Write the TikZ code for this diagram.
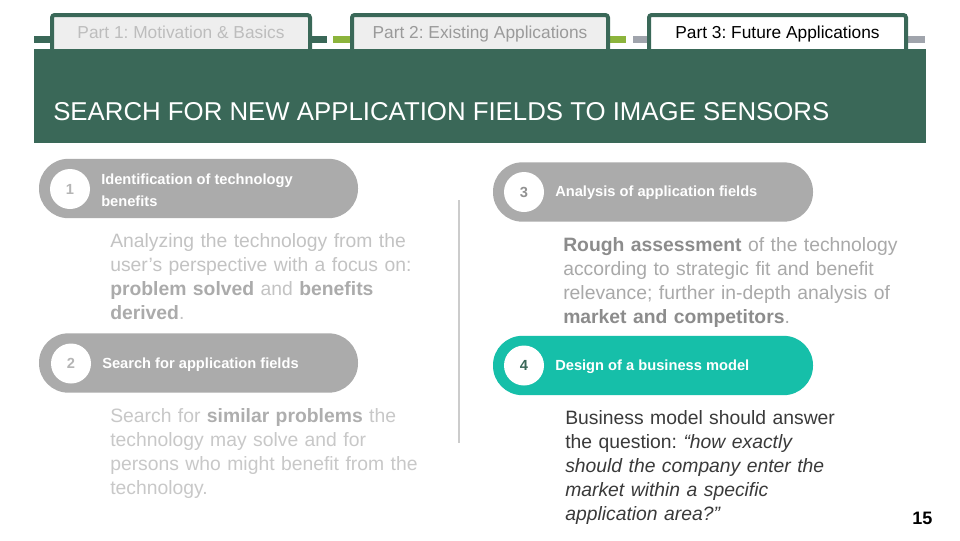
\documentclass[tikz,border=0pt]{standalone}
\usepackage{fontspec}
\setmainfont{Liberation Sans}
\frenchspacing
\definecolor{hdr}{HTML}{3A6858}
\definecolor{tabfill}{HTML}{EEEEEE}
\definecolor{tabtext}{HTML}{BDBDBD}
\definecolor{lgreen}{HTML}{8CB43C}
\definecolor{greybar}{HTML}{A0A4AC}
\definecolor{pillgrey}{HTML}{ABABAB}
\definecolor{teal}{HTML}{16BFA9}
\definecolor{numgrey}{HTML}{B5B5B5}
\definecolor{pAnorm}{HTML}{C3C3C3}
\definecolor{pAbold}{HTML}{ABABAB}
\definecolor{pCnorm}{HTML}{A9A9A9}
\definecolor{pCbold}{HTML}{8C8C8C}
\definecolor{pBnorm}{HTML}{C8C8C8}
\definecolor{pBbold}{HTML}{AEAEAE}
\definecolor{pDnorm}{HTML}{3A3A3A}
\definecolor{divider}{HTML}{CCCCCC}
\tikzset{
  tabbox/.style={draw=hdr, line width=3pt, rounded corners=2pt, minimum height=27.75pt,
    inner sep=0pt, text height=9.4pt, text depth=2.6pt, font=\fontsize{13pt}{15pt}\selectfont},
  pillbox/.style={rounded corners=22pt, minimum height=44.5pt, minimum width=240pt, inner sep=0pt},
  numcirc/.style={circle, fill=white, minimum size=30pt, inner sep=0pt,
    font=\fontsize{11pt}{13pt}\selectfont\bfseries},
  pilltext/.style={anchor=west, inner sep=0pt, text=white, align=left,
    font=\fontsize{11pt}{16.5pt}\selectfont\bfseries},
  para/.style={anchor=base west, inner sep=0pt, text width=260pt, align=left,
    font=\fontsize{14.5pt}{18pt}\selectfont},
  bar/.style={inner sep=0pt, minimum height=5.25pt}
}
\begin{document}
\begin{tikzpicture}[x=0.75pt,y=-0.75pt]
\useasboundingbox (0,0) rectangle (960,540);
\fill[white] (0,0) rectangle (960,540);
% header band
\node[fill=hdr, inner sep=0pt, minimum width=669pt, minimum height=70.5pt, anchor=north west] (header) at (34,49) {};
% small bars
\node[bar, fill=hdr, minimum width=12pt, anchor=west] (b0) at (34,39.5) {};
\node[bar, fill=hdr, minimum width=11.25pt, anchor=west] (b1) at (312,39.5) {};
\node[bar, fill=lgreen, minimum width=12.75pt, anchor=west] (b2) at (333,39.5) {};
\node[bar, fill=lgreen, minimum width=12pt, anchor=west] (b3) at (610,39.5) {};
\node[bar, fill=greybar, minimum width=11.25pt, anchor=west] (b4) at (633,39.5) {};
\node[bar, fill=greybar, minimum width=12.75pt, anchor=west] (b5) at (908,39.5) {};
% tabs
\node[tabbox, fill=tabfill, text=tabtext, minimum width=193.5pt] (tab1) at (181,33.5) {Part 1: Motivation \& Basics};
\node[tabbox, fill=tabfill, text=numgrey!85!black, minimum width=192pt] (tab2) at (480,33.5) {Part 2: Existing Applications};
\node[tabbox, fill=white, text=black, minimum width=192.75pt] (tab3) at (777.5,33.5) {Part 3: Future Applications};
\fill[hdr] (34,49) rectangle (926,52);
% title
\node[anchor=base west, inner sep=0pt, text=white, font=\fontsize{19.35pt}{23pt}\selectfont] (title) at (53,120.5)
  {SEARCH FOR NEW APPLICATION FIELDS TO IMAGE SENSORS};
% divider
\coordinate (dtop) at (459,200);
\coordinate (dbot) at (459,443);
\draw[divider, line width=0.9pt] (dtop) -- (dbot);
% pills
\node[pillbox, fill=pillgrey, minimum width=239.25pt] (pill1) at (198.5,188.5) {};
\node[pillbox, fill=pillgrey] (pill3) at (653,192) {};
\node[pillbox, fill=pillgrey, minimum width=239.25pt] (pill2) at (198.5,363) {};
\node[pillbox, fill=teal] (pill4) at (653,365.5) {};
% number circles
\node[numcirc, text=numgrey] (c1) at (70,189) {1};
\node[numcirc, text=numgrey!80!black] (c3) at (524,192) {3};
\node[numcirc, text=numgrey] (c2) at (71,363.5) {2};
\node[numcirc, text=hdr] (c4) at (524,365.5) {4};
% pill texts
\node[pilltext] (t1) at (101,190) {Identification of technology\\benefits};
\node[pilltext] (t3) at (555,193) {Analysis of application fields};
\node[pilltext] (t2) at (102,365) {Search for application fields};
\node[pilltext] (t4) at (555,367) {Design of a business model};
% paragraphs
\node[para, text=pAnorm] (p1) at (110,247)
  {Analyzing the technology from the\\
   user's perspective with a focus on:\\
   \textcolor{pAbold}{\bfseries problem solved} and \textcolor{pAbold}{\bfseries benefits}\\
   \textcolor{pAbold}{\bfseries derived}.};
\node[para, text=pCnorm, text width=270pt] (p3) at (563,251)
  {\textcolor{pCbold}{\bfseries Rough assessment} of the technology\\
   according to strategic fit and benefit\\
   relevance; further in-depth analysis of\\
   \textcolor{pCbold}{\bfseries market and competitors}.};
\node[para, text=pBnorm] (p2) at (110,422)
  {Search for \textcolor{pBbold}{\bfseries similar problems} the\\
   technology may solve and for\\
   persons who might benefit from the\\
   technology.};
\node[para, text=pDnorm] (p4) at (565,424)
  {Business model should answer\\
   the question: \textit{\textquotedblleft how exactly}\\
   \textit{should the company enter the}\\
   \textit{market within a specific}\\
   \textit{application area?\textquotedblright}};
% page number
\node[anchor=base west, inner sep=0pt, font=\fontsize{13.5pt}{15pt}\selectfont\bfseries] (pnum) at (912,524) {15};
\end{tikzpicture}
\end{document}
